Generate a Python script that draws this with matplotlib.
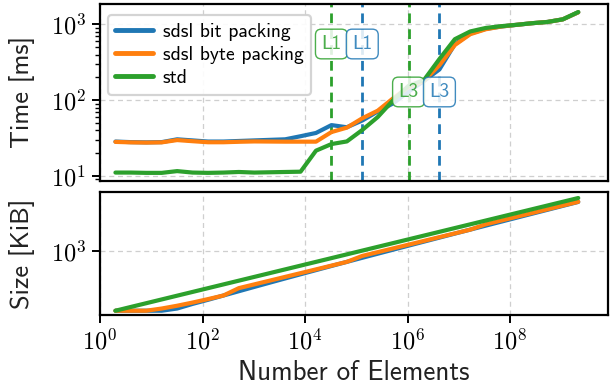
import math
import matplotlib
matplotlib.use("Agg")
import matplotlib.pyplot as plt
import matplotlib.ticker as mticker
import matplotlib.transforms as mtransforms

plt.rcParams['mathtext.fontset'] = 'cm'
plt.rcParams['font.family'] = ['cmss10', 'DejaVu Sans']
plt.rcParams['axes.unicode_minus'] = False

# ---- data ----
exponents = list(range(1, 32))          # number of elements = 2**k
n_elements = [2 ** k for k in exponents]

series_names = ["sdsl bit packing", "sdsl byte packing", "std"]
colors = ["#1f77b4", "#ff7f0e", "#2ca02c"]

time_bit = [28.5, 28.0, 27.8, 28.0, 30.5, 29.5, 28.5, 28.5, 29.0, 29.5, 30.0, 30.5,
            33.5, 37.0, 47.0, 44.0, 54.0, 71.0, 91.0, 130.0, 180.0, 255.0, 550.0,
            760.0, 875.0, 940.0, 990.0, 1040.0, 1080.0, 1170.0, 1450.0]
time_byte = [28.2, 27.8, 27.6, 27.8, 29.8, 28.8, 27.9, 27.9, 28.3, 28.6, 28.5, 28.4,
             28.4, 28.4, 38.0, 43.5, 57.8, 72.8, 106.0, 150.0, 180.0, 290.0, 536.0,
             745.0, 865.0, 940.0, 990.0, 1040.0, 1080.0, 1170.0, 1450.0]
time_std = [11.1, 11.1, 11.0, 11.0, 11.6, 11.1, 11.0, 11.1, 11.3, 11.1, 11.2, 11.3,
            11.4, 21.6, 26.4, 28.6, 40.5, 60.0, 100.0, 155.0, 185.0, 350.0, 640.0,
            810.0, 900.0, 950.0, 990.0, 1040.0, 1080.0, 1170.0, 1460.0]

size_bit = [0.0156, 0.0156, 0.0156, 0.0156, 0.0234, 0.0547, 0.117, 0.258, 0.570,
            1.258, 2.758, 6.008, 13.0, 28.0, 60.0, 128.0, 272.0, 576.0, 1216.0,
            2560.0, 5376.0, 11264.0, 23552.0, 49152.0, 102400.0, 212992.0,
            442368.0, 917504.0, 1900544.0, 3932160.0, 8126464.0]
size_byte = [0.0156, 0.0156, 0.0156, 0.0234, 0.0391, 0.0703, 0.133, 0.258, 1.008,
             2.008, 4.008, 8.008, 16.0, 32.0, 64.0, 128.0, 384.0, 768.0, 1536.0,
             3072.0, 6144.0, 12288.0, 24576.0, 49152.0, 131072.0, 262144.0,
             524288.0, 1048576.0, 2097152.0, 4194304.0, 8388608.0]
size_std = [0.0156, 0.0313, 0.0625, 0.125, 0.25, 0.5, 1.0, 2.0, 4.0, 8.0, 16.0,
            32.0, 64.0, 128.0, 256.0, 512.0, 1024.0, 2048.0, 4096.0, 8192.0,
            16384.0, 32768.0, 65536.0, 131072.0, 262144.0, 524288.0, 1048576.0,
            2097152.0, 4194304.0, 8388608.0, 16777216.0]

cache_labels = ["L1", "L1", "L3", "L3"]
cache_sizes = [2 ** 15, 2 ** 17, 2 ** 20, 2 ** 22]
cache_colors = ["#2ca02c", "#1f77b4", "#2ca02c", "#1f77b4"]
cache_label_y = [0.774, 0.774, 0.503, 0.503]

x_ticks = [1, 1e2, 1e4, 1e6, 1e8]

# ---- figure ----
W, H = 610, 390
fig = plt.figure(figsize=(W / 100, H / 100), dpi=100)
L, R = 100 / W, 608 / W
ax1 = fig.add_axes([L, 1 - 181 / H, R - L, 177 / H])
ax2 = fig.add_axes([L, 1 - 315 / H, R - L, 123 / H])

grid_kw = dict(color="#cfcfcf", linestyle=(0, (4, 3)), linewidth=0.9)

for ax in (ax1, ax2):
    ax.set_xscale("log")
    ax.set_yscale("log")
    ax.set_xlim(1, 10 ** 9.912)
    for s in ax.spines.values():
        s.set_linewidth(1.6)
        s.set_color("black")
    ax.xaxis.set_major_locator(mticker.FixedLocator(x_ticks))
    ax.xaxis.set_minor_locator(mticker.NullLocator())
    ax.grid(True, which="major", **grid_kw)
    ax.set_axisbelow(True)
    ax.tick_params(which="major", length=6, width=1.4, labelsize=17.5, pad=4)
    ax.tick_params(which="minor", length=3.5, width=1.0)

fmt = mticker.FuncFormatter(lambda v, p: r"$10^{%d}$" % round(math.log10(v)))

# top panel
times = [time_bit, time_byte, time_std]
for name, c, t in zip(series_names, colors, times):
    ax1.plot(n_elements, t, color=c, lw=3.0, label=name, solid_capstyle="round")
ax1.set_ylim(10 ** 0.934, 10 ** 3.2706)
ax1.yaxis.set_major_locator(mticker.FixedLocator([10, 100, 1000]))
ax1.yaxis.set_major_formatter(fmt)
ax1.yaxis.set_minor_locator(mticker.LogLocator(base=10, subs=range(2, 10)))
ax1.yaxis.set_minor_formatter(mticker.NullFormatter())
ax1.tick_params(axis="x", which="both", length=0, labelbottom=False)

trans = mtransforms.blended_transform_factory(ax1.transData, ax1.transAxes)
for lab, xs, c, yy in zip(cache_labels, cache_sizes, cache_colors, cache_label_y):
    ax1.axvline(xs, color=c, lw=2.0, ls=(0, (3.5, 2.2)), zorder=1.5)
    ax1.text(xs, yy, lab, transform=trans, ha="center", va="center",
             fontsize=14, color=c, alpha=0.85, zorder=5,
             bbox=dict(boxstyle="round,pad=0.3", fc="white", ec=c, lw=1.0, alpha=0.85))

leg = ax1.legend(loc="upper left", fontsize=14.2, handlelength=1.9, borderpad=0.38,
                 labelspacing=0.26, handletextpad=0.5, framealpha=0.9,
                 borderaxespad=0.4, bbox_to_anchor=(0.0, 0.98))
leg.get_frame().set_edgecolor("#d0d0d0")
leg.get_frame().set_linewidth(1.6)
for h in leg.get_lines():
    h.set_linewidth(3.5)

# bottom panel
sizes = [size_bit, size_byte, size_std]
for name, c, s in zip(series_names, colors, sizes):
    ax2.plot(n_elements, s, color=c, lw=3.0, label=name, solid_capstyle="round")
ax2.set_ylim(10 ** -2.15, 10 ** 7.706)
ax2.yaxis.set_major_locator(mticker.FixedLocator([1000]))
ax2.yaxis.set_major_formatter(fmt)
ax2.yaxis.set_minor_locator(mticker.NullLocator())
ax2.xaxis.set_major_formatter(fmt)

fig.text(22 / W, 1 - 92 / H, "Time [ms]", rotation=90, ha="center", va="center",
         fontsize=19, color="#222222")
fig.text(22 / W, 1 - 254 / H, "Size [KiB]", rotation=90, ha="center", va="center",
         fontsize=19, color="#222222")
fig.text(354 / W, 1 - 372 / H, "Number of Elements", ha="center", va="center",
         fontsize=19.5, color="#222222")

fig.savefig("out.png", dpi=100)
